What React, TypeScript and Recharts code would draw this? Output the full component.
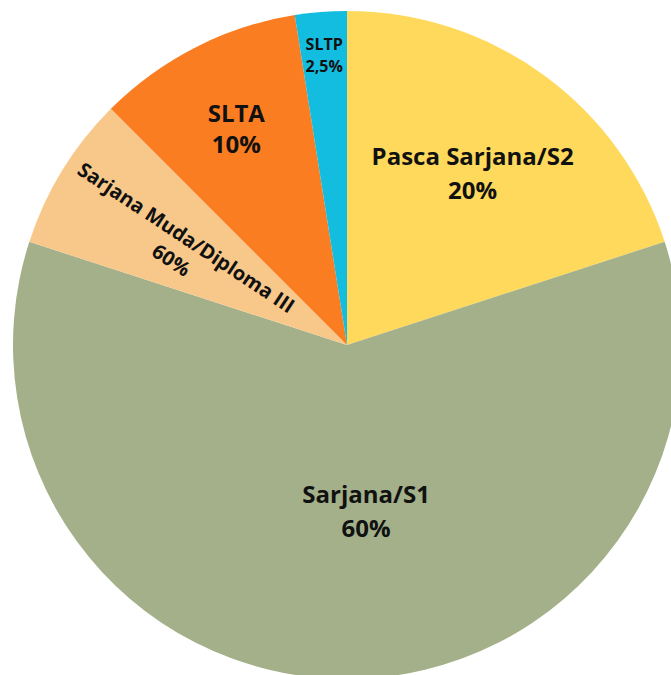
import React from "react";
import { PieChart, Pie, Cell } from "recharts";

const categories = ["Pasca Sarjana/S2", "Sarjana/S1", "Sarjana Muda/Diploma III", "SLTA", "SLTP"];
const values = [20, 60, 7.5, 10, 2.5];
const percentLabels = ["20%", "60%", "60%", "10%", "2,5%"];
const colors = ["#FFD95B", "#A3B089", "#F8C88A", "#FA7D22", "#12BDDF"];

// label styling per slice: radial fraction, angle offset, font size, line spacing, rotation along radius
const labelStyles = [
  { r: 0.64, da: 0, size: 24, gap: 34, rotate: false, rotExtra: 0 },
  { r: 0.497, da: 6.6, size: 24, gap: 34, rotate: false, rotExtra: 0 },
  { r: 0.58, da: 1.5, size: 20, gap: 27, rotate: true, rotExtra: 2 },
  { r: 0.73, da: 0, size: 24, gap: 31, rotate: false, rotExtra: 0 },
  { r: 0.87, da: 0, size: 16, gap: 22, rotate: false, rotExtra: 0 },
];

const data = categories.map((name, i) => ({ name, value: values[i], pct: percentLabels[i] }));

const RADIAN = Math.PI / 180;

const renderLabel = (props: any) => {
  const { cx, cy, midAngle, outerRadius, index } = props;
  const st = labelStyles[index];
  const r = outerRadius * st.r;
  const ang = midAngle + st.da;
  const x = cx + r * Math.cos(-ang * RADIAN);
  const y = cy + r * Math.sin(-ang * RADIAN);
  const rot = st.rotate ? 180 - midAngle + st.rotExtra : 0;
  return (
    <text
      x={x}
      y={y}
      transform={rot ? `rotate(${rot}, ${x}, ${y})` : undefined}
      textAnchor="middle"
      dominantBaseline="central"
      fontFamily="'Open Sans', sans-serif"
      fontWeight="bold"
      fontSize={st.size}
      fill="#111111"
    >
      <tspan x={x} y={y - st.gap / 2}>{categories[index]}</tspan>
      <tspan x={x} y={y + st.gap / 2}>{percentLabels[index]}</tspan>
    </text>
  );
};

export default function App() {
  return (
    <div style={{ position: "absolute", top: 0, left: 0, width: 671, height: 675, background: "#ffffff" }}>
      <PieChart width={671} height={675} margin={{ top: 0, right: 0, bottom: 0, left: 0 }}>
        <Pie
          data={data}
          dataKey="value"
          nameKey="name"
          cx={347}
          cy={345}
          outerRadius={334}
          startAngle={90}
          endAngle={-270}
          stroke="none"
          label={renderLabel}
          labelLine={false}
          isAnimationActive={false}
        >
          {data.map((d, i) => (
            <Cell key={d.name} fill={colors[i]} />
          ))}
        </Pie>
      </PieChart>
    </div>
  );
}
